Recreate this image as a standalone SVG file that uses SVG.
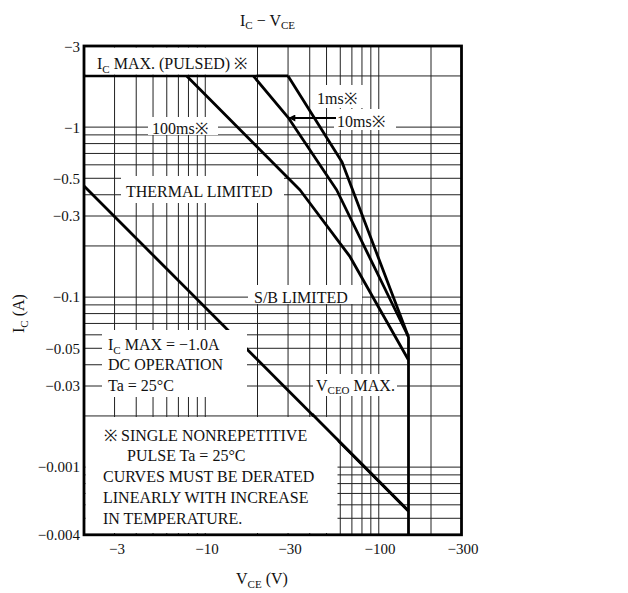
<svg xmlns="http://www.w3.org/2000/svg" width="628" height="593" viewBox="0 0 628 593">
<style>
text{font-family:"Liberation Serif","DejaVu Serif",serif;fill:#111}
.lbl{font-size:16px}
.tick{font-size:15px}
.sub{font-size:11px}
.grid line{stroke:#222;stroke-width:1}
.curve{fill:none;stroke:#000;stroke-width:2.8;stroke-linejoin:round}
.box{fill:#fff;stroke:none}
</style>
<defs>
<marker id="ah" viewBox="0 0 10 10" refX="9" refY="5" markerWidth="9" markerHeight="7" orient="auto" markerUnits="userSpaceOnUse"><path d="M0,0 L10,5 L0,10 z" fill="#000"/></marker>
</defs>
<rect width="628" height="593" fill="#fff"/>
<g id="title"><text class="lbl" x="240" y="26">I<tspan class="sub" dy="3">C</tspan><tspan dy="-3"> − V</tspan><tspan class="sub" dy="3">CE</tspan></text></g>
<g id="grid" class="grid">
<line x1="114.55" y1="46" x2="114.55" y2="534.8"/>
<line x1="136.23" y1="46" x2="136.23" y2="534.8"/>
<line x1="153.04" y1="46" x2="153.04" y2="534.8"/>
<line x1="166.78" y1="46" x2="166.78" y2="534.8"/>
<line x1="178.4" y1="46" x2="178.4" y2="534.8"/>
<line x1="188.46" y1="46" x2="188.46" y2="534.8"/>
<line x1="197.33" y1="46" x2="197.33" y2="534.8"/>
<line x1="205.27" y1="46" x2="205.27" y2="534.8"/>
<line x1="257.5" y1="46" x2="257.5" y2="534.8"/>
<line x1="288.05" y1="46" x2="288.05" y2="534.8"/>
<line x1="309.73" y1="46" x2="309.73" y2="534.8"/>
<line x1="326.54" y1="46" x2="326.54" y2="534.8"/>
<line x1="340.28" y1="46" x2="340.28" y2="534.8"/>
<line x1="351.9" y1="46" x2="351.9" y2="534.8"/>
<line x1="361.96" y1="46" x2="361.96" y2="534.8"/>
<line x1="370.83" y1="46" x2="370.83" y2="534.8"/>
<line x1="378.77" y1="46" x2="378.77" y2="534.8"/>
<line x1="431" y1="46" x2="431" y2="534.8"/>
<line x1="84" y1="75.94" x2="461.5" y2="75.94"/>
<line x1="84" y1="127.11" x2="461.5" y2="127.11"/>
<line x1="84" y1="134.89" x2="461.5" y2="134.89"/>
<line x1="84" y1="143.59" x2="461.5" y2="143.59"/>
<line x1="84" y1="153.44" x2="461.5" y2="153.44"/>
<line x1="84" y1="164.82" x2="461.5" y2="164.82"/>
<line x1="84" y1="178.29" x2="461.5" y2="178.29"/>
<line x1="84" y1="194.76" x2="461.5" y2="194.76"/>
<line x1="84" y1="216" x2="461.5" y2="216"/>
<line x1="84" y1="245.94" x2="461.5" y2="245.94"/>
<line x1="84" y1="297.11" x2="461.5" y2="297.11"/>
<line x1="84" y1="304.89" x2="461.5" y2="304.89"/>
<line x1="84" y1="313.59" x2="461.5" y2="313.59"/>
<line x1="84" y1="323.44" x2="461.5" y2="323.44"/>
<line x1="84" y1="334.82" x2="461.5" y2="334.82"/>
<line x1="84" y1="348.29" x2="461.5" y2="348.29"/>
<line x1="84" y1="364.76" x2="461.5" y2="364.76"/>
<line x1="84" y1="386" x2="461.5" y2="386"/>
<line x1="84" y1="415.94" x2="461.5" y2="415.94"/>
<line x1="84" y1="467.11" x2="461.5" y2="467.11"/>
<line x1="84" y1="474.89" x2="461.5" y2="474.89"/>
<line x1="84" y1="483.59" x2="461.5" y2="483.59"/>
<line x1="84" y1="493.44" x2="461.5" y2="493.44"/>
<line x1="84" y1="504.82" x2="461.5" y2="504.82"/>
<line x1="84" y1="518.29" x2="461.5" y2="518.29"/>
</g>
<g id="connectors">
<path id="dc" class="curve" d="M84,186 L408.5,511"/>
<path id="t100ms" class="curve" d="M186.7,75.94 L300,190 L350,256.7 L408.5,360"/>
<path id="t10ms" class="curve" d="M253.3,75.94 L288,117.3 L336.7,190 L408.5,337"/>
<path id="t1ms" class="curve" d="M288.05,75.94 L342,162 L408.5,337"/>
<path id="pulsed" class="curve" d="M84,75.94 H288.05"/>
<path id="vceo" class="curve" d="M408.5,337 V534.8"/>
</g>
<g id="label-pulsed"><rect class="box" x="85.5" y="47.5" width="171" height="27"/><text class="lbl" x="97" y="69">I<tspan class="sub" dy="4">C</tspan><tspan dy="-4"> MAX. (PULSED) ※</tspan></text></g>
<g id="label-100ms"><rect class="box" x="148" y="117" width="70" height="18"/><text class="lbl" x="152" y="134">100ms※</text></g>
<g id="label-1ms"><rect class="box" x="313" y="85" width="50" height="23"/><text class="lbl" x="317" y="104">1ms※</text></g>
<g id="label-10ms"><rect class="box" x="334" y="109" width="62" height="21"/><text class="lbl" x="337" y="127">10ms※</text><line x1="336" y1="118" x2="289" y2="118" stroke="#000" stroke-width="1.8" marker-end="url(#ah)"/></g>
<g id="label-thermal"><rect class="box" x="121" y="176" width="163" height="27"/><text class="lbl" x="126" y="197">THERMAL LIMITED</text></g>
<g id="label-sb"><rect class="box" x="248" y="285" width="114" height="19"/><text class="lbl" x="254" y="303">S/B LIMITED</text></g>
<g id="label-dc"><rect class="box" x="102" y="330" width="145" height="67"/><text class="lbl" x="108" y="350">I<tspan class="sub" dy="4">C</tspan><tspan dy="-4"> MAX = −1.0A</tspan></text><text class="lbl" x="108" y="370">DC OPERATION</text><text class="lbl" x="108" y="391">Ta = 25°C</text></g>
<g id="label-vceo"><rect class="box" x="313" y="374" width="84" height="22"/><text class="lbl" x="316" y="391">V<tspan class="sub" dy="3">CEO</tspan><tspan dy="-3"> MAX.</tspan></text></g>
<g id="label-notes"><rect class="box" x="85.5" y="417" width="252" height="116"/>
<text class="lbl" x="104" y="441">※ SINGLE NONREPETITIVE</text>
<text class="lbl" x="127" y="461">PULSE Ta = 25°C</text>
<text class="lbl" x="103" y="482">CURVES MUST BE DERATED</text>
<text class="lbl" x="103" y="503">LINEARLY WITH INCREASE</text>
<text class="lbl" x="103" y="524">IN TEMPERATURE.</text></g>
<g id="connectors-over"><path class="curve" d="M312,414 L408.5,511"/></g>
<g id="frame"><rect x="84" y="46" width="377.5" height="488.8" fill="none" stroke="#000" stroke-width="2.8"/></g>
<g id="y-axis">
<text class="tick" x="80" y="52" text-anchor="end">−3</text>
<text class="tick" x="80" y="133" text-anchor="end">−1</text>
<text class="tick" x="80" y="184" text-anchor="end">−0.5</text>
<text class="tick" x="80" y="221" text-anchor="end">−0.3</text>
<text class="tick" x="80" y="302" text-anchor="end">−0.1</text>
<text class="tick" x="80" y="354" text-anchor="end">−0.05</text>
<text class="tick" x="80" y="391" text-anchor="end">−0.03</text>
<text class="tick" x="80" y="472" text-anchor="end">−0.001</text>
<text class="tick" x="80" y="540" text-anchor="end">−0.004</text>
<text class="lbl" transform="translate(24,333) rotate(-90)">I<tspan class="sub" dy="4">C</tspan><tspan dy="-4">   (A)</tspan></text>
</g>
<g id="x-axis">
<text class="tick" x="117" y="554" text-anchor="middle">−3</text>
<text class="tick" x="207" y="554" text-anchor="middle">−10</text>
<text class="tick" x="290" y="554" text-anchor="middle">−30</text>
<text class="tick" x="380" y="554" text-anchor="middle">−100</text>
<text class="tick" x="463" y="554" text-anchor="middle">−300</text>
<text class="lbl" x="236" y="584">V<tspan class="sub" dy="4">CE</tspan><tspan dy="-4">   (V)</tspan></text>
</g>
</svg>
